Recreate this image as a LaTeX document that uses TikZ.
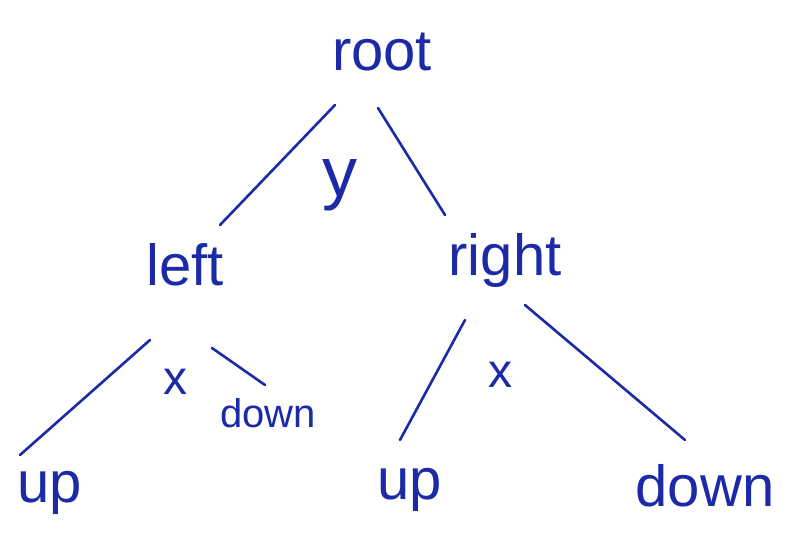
\documentclass[tikz,border=0pt]{standalone}
\usepackage{fontspec}
\setmainfont{Liberation Sans}
\definecolor{ink}{RGB}{28,42,168}
\tikzset{
  lbl/.style={text=ink, inner sep=0pt, font=\fontsize{58}{60}\selectfont},
  small/.style={text=ink, inner sep=0pt, font=\fontsize{40}{42}\selectfont},
  edge/.style={draw=ink, line width=2.6pt, line cap=round}
}
\begin{document}
\begin{tikzpicture}[x=1pt,y=-1pt]
\useasboundingbox[fill=white] (0,0) rectangle (787,550);
\node[lbl] (root) at (382,52) {root};
\node[lbl] (left) at (185,265) {left};
\node[lbl] (right) at (505,260) {right};
\node[lbl] (upL) at (50,493) {up};
\node[small] (dwnL) at (268,413) {down};
\node[lbl] (upR) at (410,490) {up};
\node[lbl] (downR) at (705,486) {down};
\node[lbl, font=\fontsize{70}{72}\selectfont] (ly) at (340,185) {y};
\node[lbl, font=\fontsize{48}{50}\selectfont] (lx1) at (175,382) {x};
\node[lbl, font=\fontsize{48}{50}\selectfont] (lx2) at (500,375) {x};
\draw[edge] ([shift={(-47,53)}]root.center) -- ([shift={(35,-40)}]left.center);
\draw[edge] ([shift={(-4,56)}]root.center) -- ([shift={(-60,-45)}]right.center);
\draw[edge] ([shift={(-35,75)}]left.center) -- ([shift={(-30,-38)}]upL.center);
\draw[edge] ([shift={(27,83)}]left.center) -- ([shift={(-3,-28)}]dwnL.center);
\draw[edge] ([shift={(-40,60)}]right.center) -- ([shift={(-10,-50)}]upR.center);
\draw[edge] ([shift={(20,45)}]right.center) -- ([shift={(-20,-46)}]downR.center);
\end{tikzpicture}
\end{document}
